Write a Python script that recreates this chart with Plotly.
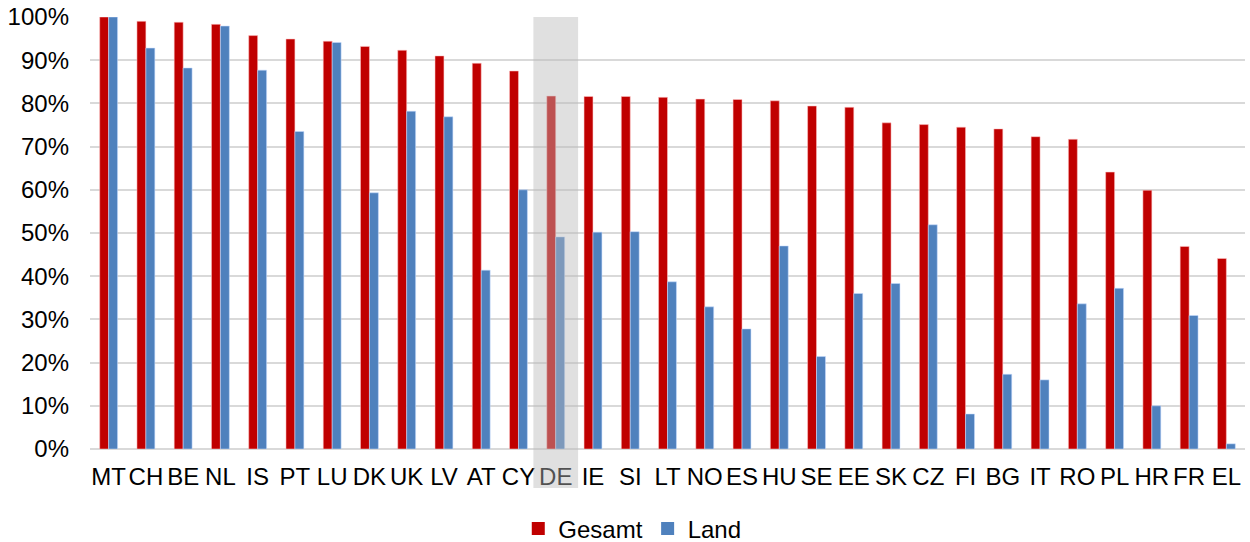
import plotly.graph_objects as go

countries = ["MT", "CH", "BE", "NL", "IS", "PT", "LU", "DK", "UK", "LV", "AT", "CY", "DE",
             "IE", "SI", "LT", "NO", "ES", "HU", "SE", "EE", "SK", "CZ", "FI", "BG", "IT",
             "RO", "PL", "HR", "FR", "EL"]
gesamt = [100.0, 99.0, 98.8, 98.3, 95.7, 94.9, 94.4, 93.2, 92.3, 91.0, 89.3, 87.5, 81.7,
          81.6, 81.6, 81.4, 81.0, 80.9, 80.6, 79.4, 79.1, 75.5, 75.1, 74.5, 74.1, 72.3,
          71.7, 64.1, 59.9, 46.9, 44.1]
land = [100.0, 92.8, 88.2, 97.9, 87.7, 73.5, 94.1, 59.3, 78.2, 76.9, 41.4, 60.0, 49.1,
        50.2, 50.3, 38.7, 32.9, 27.8, 47.0, 21.4, 36.0, 38.3, 51.9, 8.1, 17.3, 16.0,
        33.6, 37.2, 10.0, 30.9, 1.2]
highlight = "DE"
y_ticks = [0, 10, 20, 30, 40, 50, 60, 70, 80, 90, 100]

FONT = "Liberation Sans, Arial, sans-serif"
FS = 24
RED = "#C00000"
BLUE = "#4F81BD"

fig = go.Figure()
fig.add_trace(go.Bar(name="Gesamt", x=countries, y=[v / 100 for v in gesamt], showlegend=False,
                     marker=dict(color=RED, line=dict(width=0.6, color="rgba(255,200,200,0.9)"))))
fig.add_trace(go.Bar(name="Land", x=countries, y=[v / 100 for v in land], showlegend=False,
                     marker=dict(color=BLUE, line=dict(width=0.6, color="rgba(200,220,255,0.9)"))))
# legend entries with square swatches
for name, col in [("Gesamt", RED), ("Land", BLUE)]:
    fig.add_trace(go.Scatter(name=name, x=[None], y=[None], mode="markers",
                             marker=dict(symbol="square", size=13, color=col), showlegend=True))

hi = countries.index(highlight)
fig.add_shape(type="rect", xref="x", yref="paper", x0=hi - 0.6, x1=hi + 0.6,
              y0=-0.09, y1=1.0, fillcolor="rgba(184,184,184,0.44)",
              line=dict(width=0), layer="above")

fig.update_layout(
    width=1250, height=542,
    margin=dict(l=90, r=5, t=17, b=93, autoexpand=False),
    plot_bgcolor="white", paper_bgcolor="white",
    barmode="group", bargap=0.52, bargroupgap=0.0,
    font=dict(family=FONT, size=FS, color="#000000"),
    legend=dict(orientation="h", x=0.4695, xanchor="center", y=-0.185, yanchor="middle",
                font=dict(size=FS), itemwidth=30, traceorder="normal", itemsizing="trace",
                tracegroupgap=0),
    showlegend=True,
)
fig.update_xaxes(type="category", showgrid=False, ticks="", showline=False, automargin=False,
                 tickfont=dict(size=FS, color="#000000"), ticklabelstandoff=11,
                 range=[-0.5, len(countries) - 0.5])
fig.update_yaxes(range=[0, 1.0], tickvals=[t / 100 for t in y_ticks],
                 ticktext=[f"{t}%" for t in y_ticks], automargin=False,
                 showgrid=True, gridcolor="#D9D9D9", gridwidth=1.5,
                 zeroline=True, zerolinecolor="#D9D9D9", zerolinewidth=1.5,
                 showline=False, ticks="", tickfont=dict(size=FS, color="#000000"),
                 ticklabelstandoff=20)

fig.write_html("out.html", config={"displayModeBar": False},
               post_script="document.body.style.margin='0';")
